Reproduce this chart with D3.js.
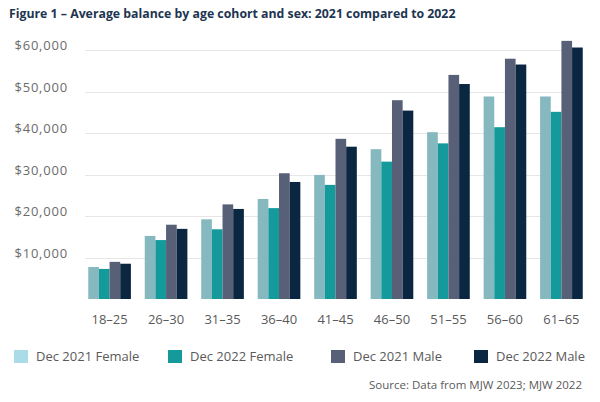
<!DOCTYPE html>
<html>
<head>
<meta charset="utf-8">
<script src="https://cdn.jsdelivr.net/npm/d3@7"></script>
<style>
  html, body { margin: 0; padding: 0; background: #fff; }
  svg { display: block; }
</style>
</head>
<body>
<svg id="chart" width="600" height="402"></svg>
<script>
const ageGroups = ["18–25", "26–30", "31–35", "36–40", "41–45", "46–50", "51–55", "56–60", "61–65"];
const seriesNames = ["Dec 2021 Female", "Dec 2022 Female", "Dec 2021 Male", "Dec 2022 Male"];
const female2021 = [7700, 15200, 19200, 24100, 29900, 36100, 40200, 48800, 48800];
const female2022 = [7250, 14200, 16800, 21900, 27500, 33100, 37500, 41400, 45100];
const male2021   = [8950, 17900, 22800, 30300, 38600, 47900, 54000, 57900, 62200];
const male2022   = [8500, 16900, 21700, 28200, 36700, 45400, 51800, 56500, 60600];
const yTicks = [10000, 20000, 30000, 40000, 50000, 60000];
const barColors = ["#86b9bf", "#159a9c", "#586078", "#0b2640"];
const legendColors = ["#a9dce6", "#159a9c", "#586078", "#0b2640"];

const seriesValues = [female2021, female2022, male2021, male2022];

const svg = d3.select("#chart");
const font = "'Open Sans', 'Liberation Sans', sans-serif";

// Title
svg.append("text")
  .attr("x", 9).attr("y", 18)
  .attr("font-family", font)
  .attr("font-weight", 700)
  .attr("font-size", 12.3)
  .attr("fill", "#1d3550")
  .text("Figure 1 – Average balance by age cohort and sex: 2021 compared to 2022");

const x = d3.scaleBand().domain(ageGroups).range([86, 585]).paddingInner(0.245).paddingOuter(0.04);
const xs = d3.scaleBand().domain(seriesNames).range([0, x.bandwidth()]);
const y = d3.scaleLinear().domain([0, 60000]).range([299, 50]);

// gridlines
svg.append("g").selectAll("line").data(yTicks).join("line")
  .attr("x1", 85).attr("x2", 583)
  .attr("y1", d => Math.round(y(d)) + 0.5).attr("y2", d => Math.round(y(d)) + 0.5)
  .attr("stroke", "#e6e6e6").attr("stroke-width", 1);

// y labels
svg.append("g").selectAll("text").data(yTicks).join("text")
  .attr("x", 68).attr("y", d => y(d))
  .attr("text-anchor", "end")
  .attr("font-family", font)
  .attr("font-size", 13)
  .attr("letter-spacing", 0.8)
  .attr("fill", "#6b6b6b")
  .text(d => "$" + d3.format(",")(d));

// bars
const groups = svg.append("g").selectAll("g").data(ageGroups).join("g")
  .attr("transform", d => `translate(${x(d)},0)`);
groups.selectAll("rect")
  .data((d, i) => seriesNames.map((s, j) => ({ s, j, v: seriesValues[j][i] })))
  .join("rect")
  .attr("x", d => xs(d.s))
  .attr("width", xs.bandwidth())
  .attr("y", d => y(d.v))
  .attr("height", d => y(0) - y(d.v))
  .attr("fill", d => barColors[d.j]);

// x labels
svg.append("g").selectAll("text").data(ageGroups).join("text")
  .attr("x", d => x(d) + x.bandwidth() / 2)
  .attr("y", 324)
  .attr("text-anchor", "middle")
  .attr("font-family", font)
  .attr("font-size", 13)
  .attr("fill", "#5a5a5a")
  .text(d => d);

// legend
const legendX = [14, 168, 331, 474];
const leg = svg.append("g").selectAll("g").data(seriesNames).join("g")
  .attr("transform", (d, i) => `translate(${legendX[i]},350)`);
leg.append("rect").attr("width", 14).attr("height", 13).attr("fill", (d, i) => legendColors[i]);
leg.append("text")
  .attr("x", 22).attr("y", 11)
  .attr("font-family", font)
  .attr("font-size", 13)
  .attr("fill", "#5a5a5a")
  .text(d => d);

// source
svg.append("text")
  .attr("x", 582).attr("y", 389)
  .attr("text-anchor", "end")
  .attr("font-family", font)
  .attr("font-size", 11.5)
  .attr("fill", "#5a5a5a")
  .text("Source: Data from MJW 2023; MJW 2022");
</script>
</body>
</html>
